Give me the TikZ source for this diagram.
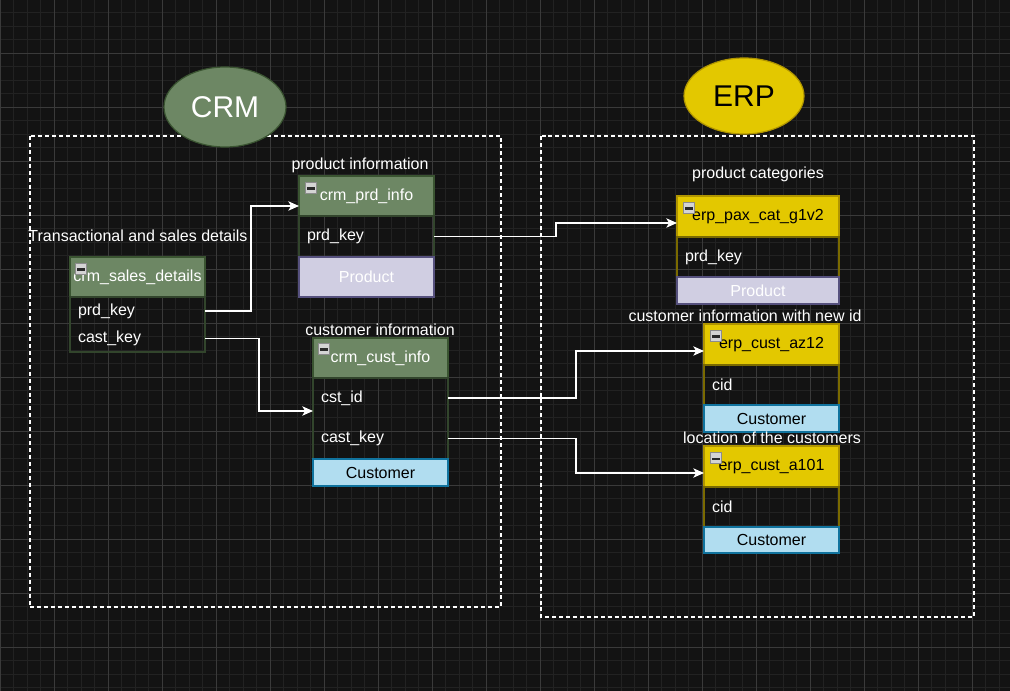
\documentclass[tikz,border=0pt]{standalone}
\usepackage{fontspec}
\setmainfont{Liberation Sans}
\usetikzlibrary{arrows.meta,shapes.geometric,calc}
\definecolor{bg}{HTML}{131313}
\definecolor{gmin}{HTML}{222222}
\definecolor{gmaj}{HTML}{3A3A3A}
\definecolor{grn}{HTML}{6D8764}
\definecolor{grnB}{HTML}{3A5431}
\definecolor{grnD}{HTML}{32452C}
\definecolor{ylw}{HTML}{E3C800}
\definecolor{ylwB}{HTML}{B09500}
\definecolor{ylwD}{HTML}{7A6A00}
\definecolor{lav}{HTML}{D0CEE2}
\definecolor{lavB}{HTML}{56517E}
\definecolor{blu}{HTML}{B1DDF0}
\definecolor{bluB}{HTML}{10739E}
\definecolor{ico}{HTML}{D4D4D4}
\definecolor{icoB}{HTML}{8C8C8C}
\definecolor{icoD}{HTML}{2A2A2A}
\newcommand{\fs}{\fontsize{12}{14}\selectfont}
\newcommand{\fb}{\fontsize{22.5}{27}\selectfont}
\begin{document}
\begin{tikzpicture}[x=0.75pt,y=-0.75pt,
  hdr/.style={anchor=north west, inner sep=0pt, outer sep=0pt, line width=0.9pt, font=\fs},
  hdrG/.style={hdr, draw=grnB, fill=grn, text=white},
  hdrY/.style={hdr, draw=ylwB, fill=ylw, text=black},
  rowtxt/.style={anchor=north west, text width=#1, inner xsep=6pt, inner ysep=0pt, outer sep=0pt, align=left, text=white, font=\fs},
  foot/.style={anchor=north west, inner sep=0pt, outer sep=0pt, line width=0.9pt, font=\fs},
  prodbox/.style={foot, fill=lav, draw=lavB, text=white},
  custbox/.style={foot, fill=blu, draw=bluB, text=black},
  icon/.style={anchor=north west, draw=icoB, fill=ico, minimum width=8.5pt, minimum height=8.5pt, inner sep=0pt, line width=0.6pt},
  lbl/.style={text=white, font=\fs, inner sep=0pt},
  conn/.style={draw=white, line width=0.9pt, -{Stealth[length=8pt,width=7pt,inset=2pt]}},
  frame/.style={draw=white, line width=1pt, dash pattern=on 3pt off 2.2pt},
]
\fill[bg] (0,0) rectangle (1010,691);
\useasboundingbox (0,0) rectangle (1010,691);
% grid
\foreach \i in {0,...,75} \draw[gmin, line width=0.5pt] ({\i*13.5},0) -- ({\i*13.5},691);
\foreach \j in {0,...,52} \draw[gmin, line width=0.5pt] (0,{\j*13.5-1}) -- (1010,{\j*13.5-1});
\foreach \i in {0,...,19} \draw[gmaj, line width=0.6pt] ({\i*54},0) -- ({\i*54},691);
\foreach \j in {1,...,13} \draw[gmaj, line width=0.6pt] (0,{\j*54-1}) -- (1010,{\j*54-1});

% frames
\draw[frame] (30,136) rectangle (501,607);
\draw[frame] (541,136) rectangle (974,617);

% ellipses
\node[ellipse, fill=grn, draw=grnB, line width=0.9pt, minimum width=91.5pt, minimum height=60pt, inner sep=0pt, text=white, font=\fb] (crm) at (225,107) {CRM};
\node[ellipse, fill=ylw, draw=ylwB, line width=0.9pt, minimum width=90pt, minimum height=57pt, inner sep=0pt, text=black, font=\fb] (erp) at (744,96) {ERP};

% ---- crm_sales_details
\node[lbl] (lsales) at (138,236) {Transactional and sales details};
\node[hdrG, minimum width=101.25pt, minimum height=30pt] (shdr) at (70,257) {crm\_sales\_details};
\node[rowtxt=89.25pt, minimum height=21pt] (sprd) at (shdr.south west) {prd\_key};
\node[rowtxt=89.25pt, minimum height=20.25pt] (scast) at (sprd.south west) {cast\_key};
\draw[grnD, line width=0.9pt] (shdr.south west) rectangle (scast.south east);
\node[icon] (ic1) at ($(shdr.north west)+(5,6)$) {};
\draw[icoD, line width=1.6pt] ($(ic1.west)+(2,0.5)$) -- ($(ic1.east)+(-2,0.5)$);

% ---- crm_prd_info
\node[lbl] (lprd) at (360,165) {product information};
\node[hdrG, minimum width=101.25pt, minimum height=30pt] (phdr) at (299,176) {crm\_prd\_info};
\node[rowtxt=89.25pt, minimum height=30.75pt] (pkey) at (phdr.south west) {prd\_key};
\draw[grnD, line width=0.9pt] (phdr.south west) rectangle (pkey.south east);
\node[prodbox, minimum width=101.25pt, minimum height=30pt] (pprod) at (pkey.south west) {Product};
\node[icon] (ic2) at ($(phdr.north west)+(6,6)$) {};
\draw[icoD, line width=1.6pt] ($(ic2.west)+(2,0.5)$) -- ($(ic2.east)+(-2,0.5)$);

% ---- crm_cust_info
\node[lbl] (lcust) at (380,330) {customer information};
\node[hdrG, minimum width=101.25pt, minimum height=30pt] (chdr) at (313,338) {crm\_cust\_info};
\node[rowtxt=89.25pt, minimum height=30pt] (cid) at (chdr.south west) {cst\_id};
\node[rowtxt=89.25pt, minimum height=30.75pt] (ckey) at (cid.south west) {cast\_key};
\draw[grnD, line width=0.9pt] (chdr.south west) rectangle (ckey.south east);
\node[custbox, minimum width=101.25pt, minimum height=20.25pt] (ccust) at (ckey.south west) {Customer};
\node[icon] (ic3) at ($(chdr.north west)+(5,5)$) {};
\draw[icoD, line width=1.6pt] ($(ic3.west)+(2,0.5)$) -- ($(ic3.east)+(-2,0.5)$);

% ---- erp_pax_cat_g1v2
\node[lbl] (lpax) at (758,174) {product categories};
\node[hdrY, minimum width=121.5pt, minimum height=30.75pt] (xhdr) at (677,196) {erp\_pax\_cat\_g1v2};
\node[rowtxt=109.5pt, minimum height=30pt] (xkey) at (xhdr.south west) {prd\_key};
\draw[ylwD, line width=0.9pt] (xhdr.south west) rectangle (xkey.south east);
\node[prodbox, minimum width=121.5pt, minimum height=20.25pt] (xprod) at (xkey.south west) {Product};
\node[icon] (ic4) at ($(xhdr.north west)+(6,6)$) {};
\draw[icoD, line width=1.6pt] ($(ic4.west)+(2,0.5)$) -- ($(ic4.east)+(-2,0.5)$);

% ---- erp_cust_az12
\node[lbl] (laz) at (745,316) {customer information with new id};
\node[hdrY, minimum width=101.25pt, minimum height=30.75pt] (ahdr) at (704,324) {erp\_cust\_az12};
\node[rowtxt=89.25pt, minimum height=30pt] (acid) at (ahdr.south west) {cid};
\draw[ylwD, line width=0.9pt] (ahdr.south west) rectangle (acid.south east);
\node[custbox, minimum width=101.25pt, minimum height=20.25pt] (acust) at (acid.south west) {Customer};
\node[icon] (ic5) at ($(ahdr.north west)+(6,6)$) {};
\draw[icoD, line width=1.6pt] ($(ic5.west)+(2,0.5)$) -- ($(ic5.east)+(-2,0.5)$);

% ---- erp_cust_a101
\node[lbl] (la1) at (772,438) {location of the customers};
\node[hdrY, minimum width=101.25pt, minimum height=30.75pt] (bhdr) at (704,446) {erp\_cust\_a101};
\node[rowtxt=89.25pt, minimum height=30pt] (bcid) at (bhdr.south west) {cid};
\draw[ylwD, line width=0.9pt] (bhdr.south west) rectangle (bcid.south east);
\node[custbox, minimum width=101.25pt, minimum height=19.5pt] (bcust) at (bcid.south west) {Customer};
\node[icon] (ic6) at ($(bhdr.north west)+(6,6)$) {};
\draw[icoD, line width=1.6pt] ($(ic6.west)+(2,0.5)$) -- ($(ic6.east)+(-2,0.5)$);

% ---- connectors
\draw[conn] (sprd.east) -- ++(46,0) |- ($(phdr.south west)+(0,-10)$);
\draw[conn] (scast.east) -- ++(54,0) |- ($(cid.south west)+(0,-7)$);
\draw[conn] (pkey.east) -- ++(122,0) |- ($(xhdr.south west)+(0,-14)$);
\draw[conn] (cid.east) -- ++(128,0) |- ($(ahdr.south west)+(0,-14)$);
\draw[conn] (ckey.east) -- ++(128,0) |- ($(bhdr.south west)+(0,-14)$);
\end{tikzpicture}
\end{document}
